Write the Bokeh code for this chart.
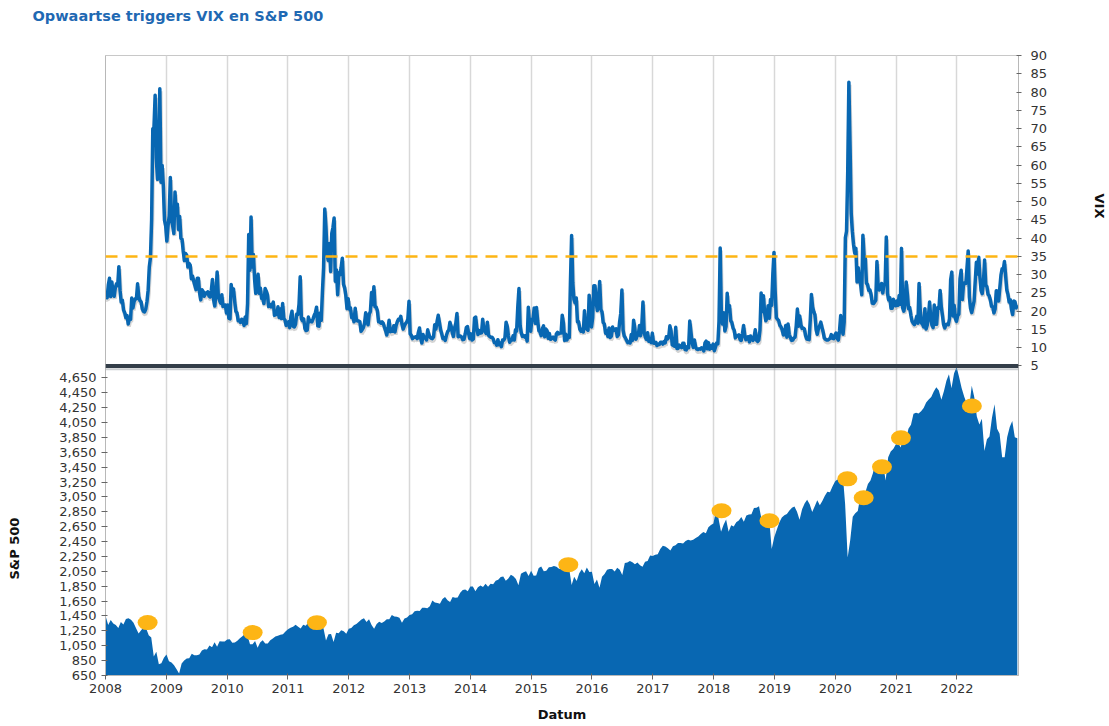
import pandas as pd
from bokeh.plotting import figure
from bokeh.models import (Range1d, FixedTicker, DatetimeTickFormatter, NumeralTickFormatter,
                          Span, ColumnDataSource, LinearAxis, Title)
from bokeh.transform import dodge
from bokeh.embed import file_html
from bokeh.resources import INLINE

title_text = "Opwaartse triggers VIX en S&P 500"
years = list(range(2008, 2023))
threshold = 35
vix_ticks = list(range(5, 95, 5))
sp_ticks = list(range(650, 4651, 200))

# weekly VIX closes 2008-2022
vix = [
    23.9, 23.7, 27.2, 29.0, 24.0, 28.0, 25.0, 24.1, 26.5, 27.5, 27.0, 32.2, 25.7,
    22.5, 23.0, 20.3, 19.6, 18.2, 18.8, 16.5, 18.0, 17.8, 23.6, 20.9, 22.6, 23.4,
    23.4, 27.5, 24.0, 22.9, 22.6, 20.7, 20.0, 19.8, 20.6, 22.6, 25.7, 32.1, 34.7,
    45.1, 69.9, 70.3, 79.1, 62.0, 56.1, 66.3, 80.9, 55.3, 59.9, 54.3, 44.9, 43.4,
    # 2009
    39.2, 43.3, 46.1, 56.6, 44.8, 43.4, 41.3, 52.6, 46.3, 49.3, 42.4, 45.9, 40.0,
    39.7, 36.5, 33.9, 35.8, 35.3, 32.1, 33.1, 32.6, 28.9, 29.6, 28.2, 27.0, 25.9,
    29.0, 29.0, 25.0, 23.1, 25.9, 25.4, 24.1, 25.0, 24.8, 25.3, 24.2, 23.9, 25.6,
    28.7, 23.1, 21.4, 24.9, 30.7, 24.2, 23.0, 22.2, 24.5, 21.3, 21.6, 21.7, 19.5,
    # 2010
    21.7, 18.1, 17.9, 27.3, 24.6, 26.1, 22.7, 20.0, 19.5, 17.4, 17.6, 16.9, 17.8,
    17.5, 16.1, 18.4, 16.6, 22.1, 41.0, 31.2, 45.8, 32.1, 35.5, 28.8, 24.9, 28.5,
    30.1, 24.9, 26.3, 23.5, 23.5, 22.1, 26.2, 25.5, 24.5, 21.3, 21.9, 21.2, 21.7,
    22.5, 18.9, 19.1, 19.1, 21.2, 18.3, 20.6, 18.0, 22.1, 18.0, 17.6, 16.1, 16.5,
    # 2011
    17.1, 15.5, 18.5, 20.0, 15.9, 15.7, 16.4, 19.2, 19.1, 21.9, 29.4, 17.9,
    17.4, 17.9, 15.3, 14.7, 14.8, 18.4, 17.1, 17.4, 17.1, 17.9, 18.9, 19.6, 21.1,
    16.0, 15.9, 19.5, 17.5, 25.3, 32.0, 48.0, 43.1, 35.6, 33.9, 38.5, 30.9, 41.3, 42.9,
    45.5, 28.2, 31.3, 24.5, 30.5, 30.0, 32.0, 34.5, 27.4, 26.4, 24.3, 20.7, 23.4,
    # 2012
    20.6, 20.9, 18.3, 18.5, 17.1, 20.8, 17.8, 17.3, 17.3, 17.1, 14.5, 15.0, 15.5,
    16.7, 19.6, 17.4, 16.3, 19.2, 19.9, 25.1, 21.8, 26.7, 21.2, 21.1, 20.1, 17.1,
    17.1, 16.7, 17.1, 16.7, 15.6, 14.7, 13.5, 15.2, 17.5, 14.4, 14.5, 14.5, 16.0,
    14.3, 16.1, 17.1, 17.8, 17.6, 18.6, 16.4, 15.1, 16.0, 16.6, 17.0, 17.8, 22.7,
    # 2013
    13.8, 13.4, 12.5, 12.9, 12.9, 13.0, 12.5, 14.2, 15.4, 12.6, 11.3, 13.6, 12.7,
    12.9, 12.1, 14.9, 13.6, 12.9, 12.6, 12.5, 13.0, 16.3, 15.1, 17.2, 18.9, 16.9,
    14.9, 13.8, 12.5, 12.7, 12.0, 13.4, 14.4, 14.8, 17.0, 15.9, 14.2, 13.1, 15.5,
    16.7, 19.4, 13.0, 13.1, 13.2, 12.9, 12.2, 12.3, 13.7, 15.5, 15.8, 13.8, 12.5,
    # 2014
    13.8, 12.1, 12.4, 18.1, 18.4, 15.3, 13.6, 14.7, 14.0, 14.1, 17.8, 15.0, 14.4,
    13.9, 17.0, 13.4, 13.1, 12.9, 12.9, 12.4, 11.4, 11.4, 10.7, 12.2, 10.8, 11.3,
    10.3, 12.1, 12.1, 12.7, 17.0, 15.8, 13.2, 11.5, 12.0, 12.1, 13.3, 12.1, 14.9,
    14.6, 21.2, 26.2, 16.1, 14.0, 13.1, 13.3, 12.9, 13.3, 11.8, 21.1, 16.5, 14.5,
    # 2015
    17.8, 17.6, 20.9, 16.7, 21.0, 17.3, 14.7, 14.3, 13.3, 15.2, 16.0, 13.0, 15.1,
    14.7, 12.6, 13.9, 12.3, 12.7, 12.9, 12.4, 12.1, 13.8, 14.2, 13.8, 14.0, 14.0,
    18.9, 16.8, 12.0, 13.7, 12.1, 13.4, 12.8, 28.0, 40.7, 27.8, 23.2, 22.3, 23.6,
    17.1, 17.1, 15.1, 14.5, 15.1, 14.3, 20.1, 15.5, 15.1, 14.8, 24.4, 20.7, 15.7,
    # 2016
    18.2, 27.0, 27.0, 22.3, 20.2, 23.4, 28.1, 20.5, 19.8, 16.9, 16.5, 14.0, 14.7,
    13.1, 15.4, 12.8, 13.2, 15.7, 14.7, 15.0, 15.2, 13.1, 13.5, 17.0, 19.4, 25.8,
    14.8, 13.2, 12.7, 12.0, 11.4, 11.6, 11.3, 13.6, 12.0, 17.5, 15.4, 12.3, 13.3,
    13.5, 16.1, 13.3, 16.2, 22.5, 14.2, 12.9, 12.3, 14.1, 11.8, 12.2, 11.4, 14.0,
    # 2017
    11.3, 11.2, 11.5, 10.6, 11.0, 10.9, 11.5, 11.5, 11.0, 11.7, 11.3, 13.0, 12.4,
    12.9, 16.0, 14.6, 10.8, 10.6, 10.4, 15.6, 9.8, 9.8, 10.7, 10.4, 10.0, 11.2,
    11.2, 9.5, 9.4, 10.3, 10.0, 17.3, 14.3, 11.3, 10.1, 12.1, 10.2, 9.6, 9.5,
    9.7, 9.6, 10.0, 9.8, 9.1, 11.3, 11.8, 9.7, 11.4, 9.6, 10.5, 9.9, 11.0,
    # 2018
    9.2, 10.2, 11.3, 11.1, 17.3, 37.3, 19.5, 16.5, 19.6, 14.6, 15.8, 24.9, 20.0,
    21.5, 17.4, 16.9, 15.4, 14.8, 12.7, 13.4, 13.2, 13.5, 12.2, 12.0, 13.8, 16.1,
    13.4, 12.2, 12.9, 13.0, 11.6, 13.2, 12.6, 12.0, 12.9, 14.9, 12.1, 11.7, 12.1,
    14.8, 25.0, 19.9, 24.2, 19.5, 17.4, 18.1, 21.5, 18.1, 23.2, 21.6, 30.1, 36.1,
    # 2019
    25.4, 18.2, 17.8, 17.4, 16.1, 15.7, 14.9, 13.5, 13.6, 16.1, 12.9, 16.5, 13.7,
    12.8, 12.0, 12.1, 12.7, 12.9, 16.0, 20.6, 15.9, 18.7, 16.3, 15.3, 15.4, 15.1,
    13.3, 12.4, 12.3, 12.2, 17.6, 24.6, 21.2, 19.9, 19.0, 15.0, 13.7, 15.3, 16.0,
    17.0, 15.6, 14.3, 12.7, 12.3, 12.1, 12.1, 12.3, 12.6, 13.6, 12.6, 12.5, 13.4,
    # 2020
    14.0, 12.6, 12.1, 14.6, 18.8, 15.5, 13.7, 17.1, 40.1, 41.9, 57.8, 82.7, 65.5,
    46.8, 41.7, 38.2, 35.9, 37.2, 28.0, 31.9, 28.2, 27.5, 24.5, 40.8, 35.1, 34.7,
    27.7, 27.3, 25.7, 25.8, 24.5, 22.2, 22.1, 22.5, 23.0, 33.6, 26.9, 25.8, 26.4,
    27.6, 25.0, 27.4, 27.6, 40.3, 24.9, 23.1, 23.7, 20.8, 20.8, 23.3, 21.6, 21.5,
    # 2021
    22.8, 21.6, 24.3, 21.9, 37.2, 20.9, 20.0, 22.1, 28.0, 24.7, 20.7, 21.0, 18.9,
    17.3, 16.7, 16.3, 17.3, 18.6, 16.7, 27.6, 20.2, 16.8, 16.4, 15.7, 20.7,
    15.1, 16.2, 18.5, 22.5, 18.2, 16.2, 15.5, 21.7, 16.4, 16.4, 21.0, 20.8, 25.7,
    21.2, 18.8, 16.3, 15.4, 16.3, 16.5, 16.3, 17.9, 28.6, 30.7, 18.7, 21.6, 18.0, 17.2,
    # 2022
    18.8, 19.2, 28.9, 31.2, 23.2, 27.4, 27.8, 27.6, 32.0, 36.5, 23.9, 20.8,
    19.6, 21.2, 22.7, 28.2, 33.4, 30.2, 34.8, 29.4, 25.7, 24.8, 27.8, 34.0, 27.2,
    26.7, 24.6, 24.2, 23.0, 21.3, 21.2, 19.5, 20.6, 25.6, 25.5, 22.8, 26.3, 29.9, 31.6,
    31.4, 33.6, 29.7, 25.8, 24.6, 22.5, 23.1, 20.5, 19.1, 22.8, 22.6, 20.9, 21.7,
]

# semi-monthly S&P 500 levels 2008-2022
sp500 = [
    1447, 1330, 1395, 1350, 1330, 1288, 1370, 1335, 1410, 1420, 1400, 1360,
    1285, 1215, 1260, 1298, 1283, 1192, 1161, 907, 968, 800, 816, 888,
    931, 843, 826, 789, 735, 677, 811, 852, 877, 883, 942, 923,
    923, 932, 987, 1004, 998, 1052, 1030, 1096, 1036, 1110, 1108, 1107,
    1133, 1136, 1090, 1094, 1118, 1150, 1178, 1211, 1187, 1071, 1070, 1115,
    1023, 1095, 1125, 1079, 1080, 1125, 1146, 1176, 1184, 1197, 1206, 1242,
    1272, 1293, 1307, 1332, 1305, 1281, 1332, 1319, 1361, 1337, 1315, 1271,
    1339, 1316, 1286, 1120, 1204, 1209, 1099, 1225, 1218, 1257, 1244, 1212,
    1277, 1289, 1324, 1343, 1374, 1402, 1419, 1370, 1405, 1330, 1278, 1342,
    1374, 1356, 1375, 1405, 1406, 1465, 1444, 1440, 1427, 1359, 1416, 1430,
    1462, 1472, 1513, 1520, 1518, 1560, 1562, 1553, 1582, 1658, 1630, 1626,
    1614, 1680, 1706, 1661, 1639, 1704, 1695, 1698, 1762, 1798, 1805, 1781,
    1848, 1848, 1782, 1838, 1859, 1841, 1885, 1842, 1884, 1878, 1924, 1937,
    1973, 1981, 1925, 1955, 2003, 1985, 1946, 1862, 2018, 2039, 2053, 1989,
    2058, 1992, 1995, 2096, 2117, 2053, 2059, 2106, 2108, 2123, 2111, 2084,
    2077, 2108, 2104, 2092, 1867, 1978, 1920, 2023, 2079, 2023, 2102, 2043,
    2044, 1880, 1940, 1829, 1978, 2015, 2073, 2081, 2081, 2047, 2100, 2071,
    2000, 2161, 2170, 2190, 2171, 2147, 2168, 2132, 2111, 2180, 2191, 2262,
    2258, 2275, 2279, 2350, 2396, 2385, 2362, 2329, 2388, 2402, 2430, 2433,
    2423, 2459, 2476, 2464, 2476, 2500, 2519, 2553, 2579, 2564, 2642, 2675,
    2695, 2873, 2762, 2581, 2677, 2747, 2581, 2670, 2654, 2711, 2735, 2780,
    2718, 2801, 2813, 2818, 2901, 2905, 2924, 2750, 2740, 2730, 2760, 2351,
    2510, 2610, 2706, 2775, 2803, 2822, 2867, 2905, 2923, 2850, 2744, 2886,
    2964, 3014, 2953, 2847, 2926, 3007, 2940, 2995, 3066, 3120, 3113, 3191,
    3258, 3289, 3225, 3380, 2954, 2237, 2470, 2783, 2830, 2863, 3055, 3067,
    3115, 3226, 3271, 3372, 3526, 3401, 3380, 3483, 3270, 3585, 3662, 3694,
    3756, 3768, 3714, 3934, 3811, 3968, 4020, 4170, 4181, 4173, 4204, 4247,
    4320, 4360, 4395, 4468, 4524, 4480, 4357, 4471, 4613, 4700, 4513, 4710,
    4796, 4662, 4516, 4401, 4306, 4262, 4545, 4392, 4132, 4023, 4101, 3667,
    3825, 3863, 4118, 4297, 3966, 3901, 3585, 3583, 3856, 3992, 4072, 3852, 3840,
]

trigger_dates = ["2008-09-10", "2010-06-03", "2011-06-24", "2015-08-12", "2018-02-17",
                 "2018-12-02", "2020-03-14", "2020-06-20", "2020-10-08", "2021-01-30",
                 "2022-04-01"]
trigger_levels = [1361, 1227, 1361, 2140, 2865, 2731, 3294, 3039, 3455, 3845, 4274]

BLUE = "#0867b2"
ORANGE = "#fdb515"
FONT = "DejaVu Sans"

vix_src = ColumnDataSource(dict(
    date=pd.date_range("2008-01-04", "2022-12-30", periods=len(vix)), vix=vix))
sp_src = ColumnDataSource(dict(
    date=pd.date_range("2008-01-02", "2022-12-30", periods=len(sp500)), sp=sp500))
trig_src = ColumnDataSource(dict(date=pd.to_datetime(trigger_dates), level=trigger_levels))

year_ticks = [pd.Timestamp(f"{y}-01-01").timestamp() * 1000 for y in years]

# one frame holds both panels: S&P in the lower half, VIX in the upper half
SP_LO, SP_HI = 650, 4811          # lower panel span (310 px)
VIX_LO, VIX_HI = 5, 90            # upper panel span (311 px)
LOW_PX, UP_PX = 310, 311
sp_end = SP_LO + (SP_HI - SP_LO) * (LOW_PX + UP_PX) / LOW_PX
vix_start = VIX_HI - (VIX_HI - VIX_LO) * (LOW_PX + UP_PX) / UP_PX

p = figure(width=1108, height=724, title=None,
           x_range=Range1d(pd.Timestamp("2008-01-01"), pd.Timestamp("2023-01-06")),
           y_range=Range1d(SP_LO, sp_end), x_axis_type="datetime",
           output_backend="svg", toolbar_location=None,
           min_border_left=105, min_border_right=90, min_border_top=55, min_border_bottom=48)
p.extra_y_ranges = {"vix": Range1d(vix_start, VIX_HI)}
p.ygrid.visible = False
p.xgrid.ticker = FixedTicker(ticks=year_ticks)
p.xgrid.grid_line_color = "#d8d8d8"
p.xgrid.grid_line_width = 1.5
p.outline_line_color = "#c8c8c8"

# lower panel: S&P 500 area and trigger dots
p.varea(x="date", y1=SP_LO, y2="sp", source=sp_src, fill_color=BLUE)
p.ellipse(x="date", y="level", width=20, height=15, width_units="screen",
          height_units="screen", source=trig_src, fill_color=ORANGE, line_color=None)

# upper panel: VIX line with threshold
p.line(x=dodge("date", 4 * 86400000.0), y=dodge("vix", -0.7), source=vix_src,
       y_range_name="vix", line_color="#555555", line_alpha=0.25, line_width=4)
p.line(x="date", y="vix", source=vix_src, y_range_name="vix", line_color=BLUE,
       line_width=3.5, line_join="round")
p.add_layout(Span(location=threshold, dimension="width", y_range_name="vix",
                  line_color=ORANGE, line_width=2.5, line_dash="12 8"))

# separator between the panels
p.add_layout(Span(location=SP_HI - 45, dimension="width", line_color="#9aa0a6",
                  line_alpha=0.5, line_width=2))
p.add_layout(Span(location=SP_HI, dimension="width", line_color="#333e49", line_width=4))

# axes
xa = p.xaxis[0]
xa.ticker = FixedTicker(ticks=year_ticks)
xa.formatter = DatetimeTickFormatter(years="%Y", months="%Y", days="%Y", hours="%Y",
                                     minutes="%Y", seconds="%Y", milliseconds="%Y")
xa.axis_label = "Datum"
xa.axis_label_standoff = 11
xa.major_label_standoff = 4

yb = p.yaxis[0]
yb.ticker = FixedTicker(ticks=sp_ticks)
yb.formatter = NumeralTickFormatter(format="0,0")
yb.major_label_standoff = 5

ya = LinearAxis(y_range_name="vix", ticker=FixedTicker(ticks=vix_ticks))
ya.major_label_standoff = 9
p.add_layout(ya, "right")

for ax in (xa, yb, ya):
    ax.axis_label_text_font = FONT
    ax.axis_label_text_font_size = "13px"
    ax.axis_label_text_font_style = "bold"
    ax.axis_label_text_color = "#111111"
    ax.major_label_text_font = FONT
    ax.major_label_text_font_size = "13px"
    ax.major_label_text_color = "#333333"
    ax.axis_line_color = "#b8b8b8"
    ax.major_tick_line_color = "#666666"
    ax.major_tick_in = 2
    ax.major_tick_out = 4
    ax.minor_tick_line_color = None
ya.major_tick_out = 3


def spacer(px):
    return Title(text=" ", text_font_size="1px", standoff=px)


def side_title(text, **kw):
    return Title(text=text, text_font=FONT, text_font_style="bold", standoff=0, **kw)


# main title, lifted above the frame by an invisible spacer
p.add_layout(spacer(29), "above")
p.add_layout(side_title(title_text, text_font_size="14.5px", text_color="#1f69b3",
                        align="left", offset=-73), "above")

# axis titles beside their own panel
p.add_layout(spacer(32), "left")
p.add_layout(side_title("S&P 500", text_font_size="13px", text_color="#111111",
                        align="left", offset=96), "left")
p.add_layout(spacer(38), "right")
p.add_layout(side_title("VIX", text_font_size="13px", text_color="#111111",
                        align="left", offset=138), "right")

open("out.html", "w").write(file_html(p, INLINE))
